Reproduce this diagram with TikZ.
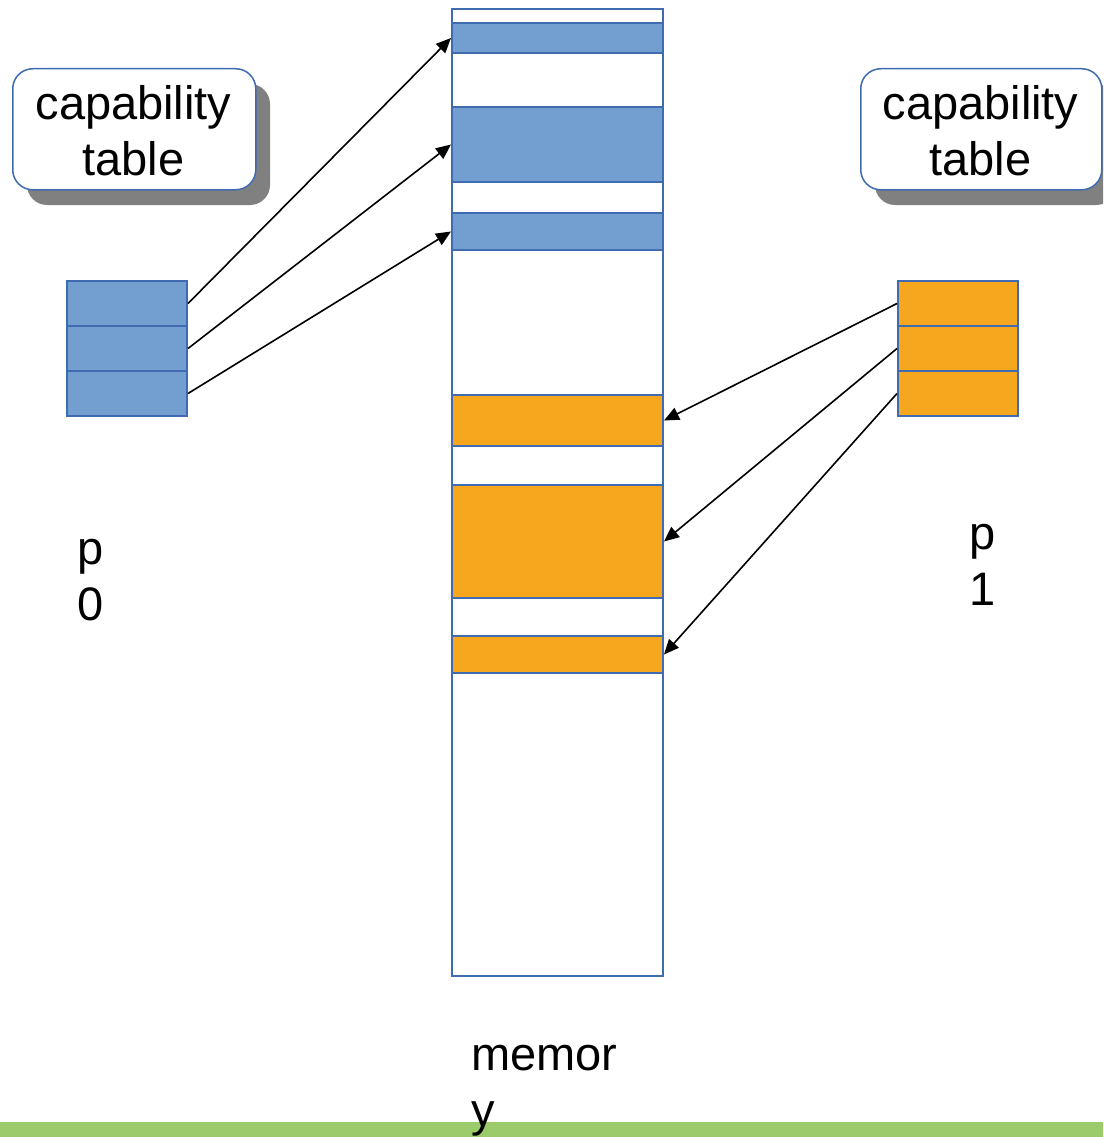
\documentclass[tikz,border=0pt]{standalone}
\usepackage{fontspec}
\setmainfont{Liberation Sans}
\usetikzlibrary{arrows.meta}
\definecolor{memblue}{RGB}{114,159,207}
\definecolor{edgeblue}{RGB}{63,108,176}
\definecolor{memorange}{RGB}{247,167,30}
\definecolor{shadowgray}{RGB}{128,128,128}
\definecolor{bargreen}{RGB}{155,203,106}
\tikzset{
  blk/.style={draw=edgeblue, line width=2pt, anchor=north west, inner sep=0pt, minimum width=211pt},
  bluecell/.style={blk, fill=memblue},
  orangecell/.style={blk, fill=memorange},
  tcell/.style={draw=edgeblue, line width=2pt, anchor=north west, inner sep=0pt, minimum width=120pt, minimum height=45pt},
  captab/.style={draw=edgeblue, line width=1.5pt, fill=white, rounded corners=20pt, anchor=north west, inner sep=0pt, minimum width=243pt, minimum height=121pt},
  capshadow/.style={fill=shadowgray, rounded corners=20pt},
  bigtext/.style={font=\fontsize{47}{56}\selectfont, inner sep=0pt},
  ptr/.style={-{Triangle[length=15pt,width=13pt]}, line width=1.6pt, black}
}
\begin{document}
\begin{tikzpicture}[x=1pt,y=-1pt]
\useasboundingbox (0,0) rectangle (1103,1137);
\clip (0,0) rectangle (1103,1137);
\fill[white] (0,0) rectangle (1103,1137);
% green bar
\fill[bargreen] (0,1122) rectangle (1103,1137);
% memory column
\node[blk, minimum height=967pt] (mem) at (451,8) {};
\node[bluecell, minimum height=30pt] (b1) at (451,22) {};
\node[bluecell, minimum height=75pt] (b2) at (451,106) {};
\node[bluecell, minimum height=37pt] (b3) at (451,212) {};
\node[orangecell, minimum height=51pt] (o1) at (451,394) {};
\node[orangecell, minimum height=113pt] (o2) at (451,484) {};
\node[orangecell, minimum height=37pt] (o3) at (451,635) {};
% capability tables
\node[tcell, fill=memblue] (l1) at (66,280) {};
\node[tcell, fill=memblue] (l2) at (66,325) {};
\node[tcell, fill=memblue] (l3) at (66,370) {};
\node[tcell, fill=memorange] (r1) at (897,280) {};
\node[tcell, fill=memorange] (r2) at (897,325) {};
\node[tcell, fill=memorange] (r3) at (897,370) {};
% capability table labels
\fill[capshadow] (27,84) rectangle (270,205);
\node[captab] (capL) at (12,68) {};
\node[bigtext, align=center] (capLt) at (133.5,131) {capability\\table};
\fill[capshadow] (875,84) rectangle (1116,205);
\node[captab, minimum width=241pt] (capR) at (860,68) {};
\node[bigtext, align=center] (capRt) at (980.5,131) {capability\\table};
% process labels
\node[bigtext, align=center] (p0) at (91,580) {p\\0};
\node[bigtext, align=center] (p1) at (983,565) {p\\1};
\node[bigtext, align=left, anchor=west] (memlbl) at (471,1091) {memor\\y};
% pointers
\draw[ptr] (l1.east) -- (b1.west);
\draw[ptr] (l2.east) -- (b2.west);
\draw[ptr] (l3.east) -- (b3.west);
\draw[ptr] (r1.west) -- (o1.east);
\draw[ptr] (r2.west) -- (o2.east);
\draw[ptr] (r3.west) -- (o3.east);
\end{tikzpicture}
\end{document}
